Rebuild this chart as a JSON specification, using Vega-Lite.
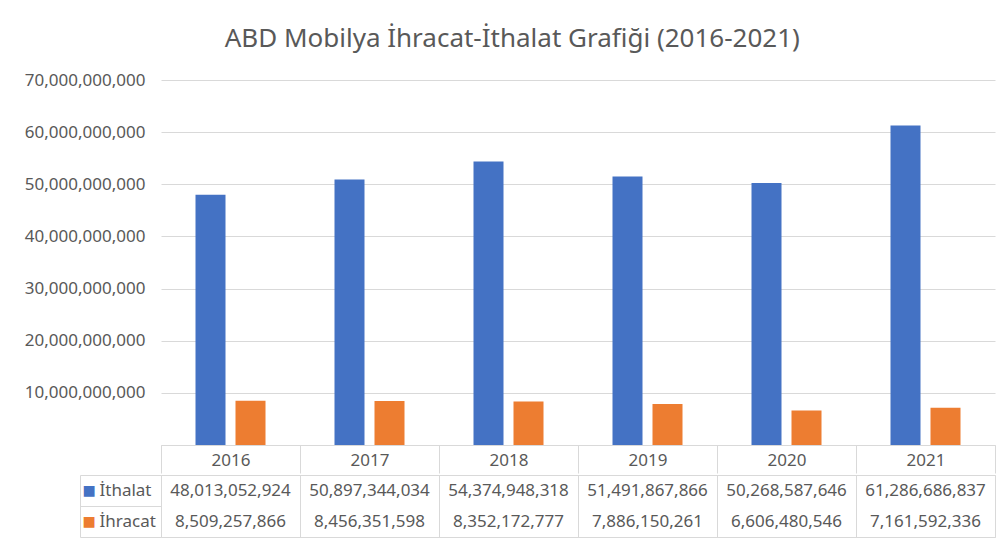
{
  "$schema": "https://vega.github.io/schema/vega-lite/v6.json",
  "padding": {"left": 5, "top": 26, "right": 5, "bottom": 5},
  "background": "white",
  "title": {
    "text": "ABD Mobilya İhracat-İthalat Grafiği (2016-2021)",
    "font": "Noto Sans",
    "fontSize": 26,
    "fontWeight": "normal",
    "color": "#595959",
    "anchor": "middle",
    "offset": 19,
    "dx": 12
  },
  "datasets": {
    "trade": [
      {"year": "2016", "series": "İthalat", "value": 48013052924},
      {"year": "2016", "series": "İhracat", "value": 8509257866},
      {"year": "2017", "series": "İthalat", "value": 50897344034},
      {"year": "2017", "series": "İhracat", "value": 8456351598},
      {"year": "2018", "series": "İthalat", "value": 54374948318},
      {"year": "2018", "series": "İhracat", "value": 8352172777},
      {"year": "2019", "series": "İthalat", "value": 51491867866},
      {"year": "2019", "series": "İhracat", "value": 7886150261},
      {"year": "2020", "series": "İthalat", "value": 50268587646},
      {"year": "2020", "series": "İhracat", "value": 6606480546},
      {"year": "2021", "series": "İthalat", "value": 61286686837},
      {"year": "2021", "series": "İhracat", "value": 7161592336}
    ]
  },
  "data": {"name": "trade"},
  "spacing": 0,
  "config": {
    "font": "Noto Sans",
    "view": {"stroke": null},
    "axis": {"labelFont": "Noto Sans", "labelColor": "#595959", "labelFontSize": 17}
  },
  "vconcat": [
    {
      "width": 834,
      "height": 365,
      "mark": {"type": "bar"},
      "encoding": {
        "x": {
          "field": "year", "type": "nominal",
          "scale": {"paddingInner": 0, "paddingOuter": 0},
          "axis": {
            "title": null, "labelAngle": 0,
            "domain": true, "domainColor": "#d9d9d9", "domainWidth": 1,
            "ticks": true, "tickBand": "extent", "tickSize": 28, "tickColor": "#d9d9d9", "tickWidth": 1,
            "labelBaseline": "middle", "labelPadding": -13, "grid": false
          }
        },
        "xOffset": {
          "field": "series", "type": "nominal",
          "sort": ["İthalat", "İhracat"],
          "scale": {"paddingInner": 0.25, "paddingOuter": 0.8625}
        },
        "y": {
          "field": "value", "type": "quantitative",
          "scale": {"domain": [0, 70000000000], "nice": false},
          "axis": {
            "title": null, "values": [0, 10000000000, 20000000000, 30000000000, 40000000000, 50000000000, 60000000000, 70000000000],
            "format": ",d",
            "labelExpr": "datum.value == 0 ? '' : datum.label",
            "domain": false, "ticks": false, "labelPadding": 16,
            "grid": true, "gridColor": "#d9d9d9", "gridWidth": 1,
            "minExtent": 156, "maxExtent": 156
          }
        },
        "color": {
          "field": "series", "type": "nominal",
          "scale": {"domain": ["İthalat", "İhracat"], "range": ["#4472C4", "#ED7D31"]},
          "legend": null
        }
      }
    },
    {
      "width": 834,
      "height": 62,
      "view": {"stroke": "#d9d9d9", "strokeWidth": 1},
      "layer": [
        {
          "mark": {"type": "text", "font": "Noto Sans", "fontSize": 17, "color": "#595959"},
          "encoding": {
            "x": {
              "field": "year", "type": "nominal",
              "scale": {"paddingInner": 0, "paddingOuter": 0},
              "axis": {
                "title": null, "labels": false, "ticks": false, "domain": false,
                "grid": true, "tickBand": "extent", "gridColor": "#d9d9d9", "gridWidth": 1
              }
            },
            "y": {
              "field": "series", "type": "nominal",
              "sort": ["İthalat", "İhracat"],
              "scale": {"paddingInner": 0, "paddingOuter": 0},
              "axis": {
                "orient": "left", "title": null, "labels": false,
                "offset": 81, "domain": true, "domainColor": "#d9d9d9", "domainWidth": 1,
                "ticks": true, "tickBand": "extent", "tickSize": -81, "tickColor": "#d9d9d9", "tickWidth": 1,
                "grid": false
              }
            },
            "text": {"field": "value", "type": "quantitative", "format": ","}
          }
        },
        {
          "mark": {"type": "text", "opacity": 0},
          "encoding": {
            "y": {
              "field": "series", "type": "nominal",
              "sort": ["İthalat", "İhracat"],
              "axis": {
                "orient": "left", "title": null, "domain": false, "ticks": false, "tickSize": 0,
                "labelAlign": "left", "labelPadding": 62, "grid": false
              }
            },
            "text": {"field": "series"}
          }
        },
        {
          "mark": {"type": "text", "opacity": 0},
          "encoding": {
            "y": {
              "field": "series", "type": "nominal",
              "sort": ["İthalat", "İhracat"],
              "axis": {
                "orient": "left", "title": null, "domain": false, "ticks": false, "tickSize": 0,
                "labelAlign": "left", "labelPadding": 79, "grid": false,
                "labelExpr": "'■'", "labelFont": "DejaVu Sans", "labelFontSize": 14,
                "labelColor": {"condition": {"test": "datum.value == 'İthalat'", "value": "#4472C4"}, "value": "#ED7D31"}
              }
            },
            "text": {"field": "series"}
          }
        }
      ],
      "resolve": {"axis": {"y": "independent"}}
    }
  ]
}
